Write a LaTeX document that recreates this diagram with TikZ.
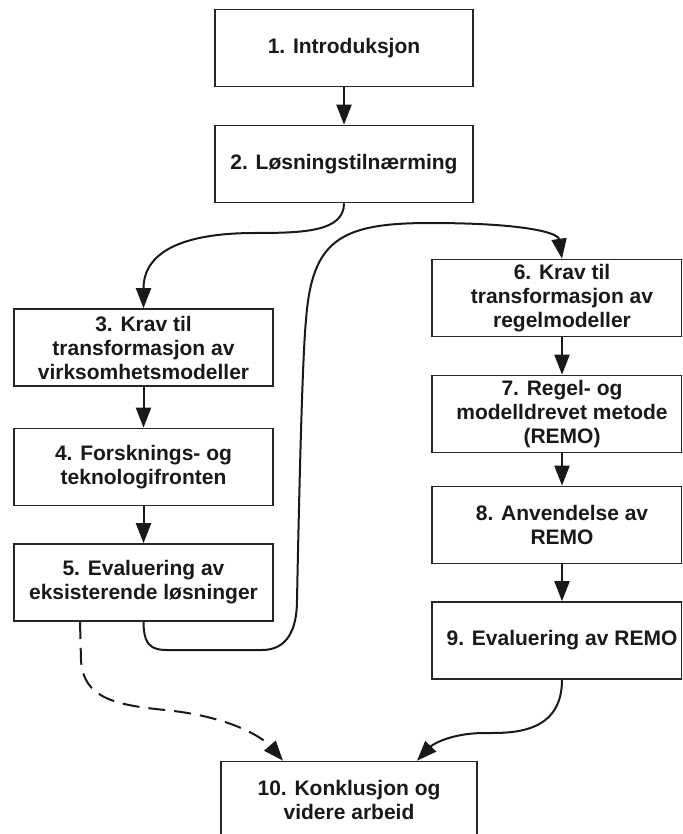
\documentclass[tikz,border=0pt]{standalone}
\usepackage{fontspec}
\setmainfont{Liberation Sans}
\usetikzlibrary{arrows.meta}
\begin{document}
\begin{tikzpicture}[x=1pt,y=-1pt,
  box/.style={draw=black!85, line width=1.6pt, fill=white, align=center,
    text=black!90, font=\bfseries\fontsize{21}{24}\selectfont,
    inner sep=0pt, minimum height=77pt},
  rightedge/.style={draw=black!85, line width=1.6pt},
  arr/.style={draw=black!90, line width=2pt,
    -{Triangle[length=20pt,width=15pt]}},
  dashedarr/.style={arr, dash pattern=on 17pt off 9pt},
]
\useasboundingbox (0,0) rectangle (682,834);
\clip (0,0) rectangle (682,834);

% centre column
\node[box, minimum width=258pt] (n1) at (344,48) {1. Introduksjon};
\node[box, minimum width=258pt] (n2) at (344,164) {2. Løsningstilnærming};

% left column
\node[box, minimum width=259pt] (n3) at (143.5,347.5) {3. Krav til\\transformasjon av\\virksomhetsmodeller};
\node[box, minimum width=259pt] (n4) at (143.5,467) {4. Forsknings- og\\teknologifronten};
\node[box, minimum width=259pt] (n5) at (143.5,582.5) {5. Evaluering av\\eksisterende løsninger};

% right column (frames run to the page edge)
\node[box, minimum width=260pt] (n6) at (562,298) {6. Krav til\\transformasjon av\\regelmodeller};
\node[box, minimum width=260pt] (n7) at (562,414) {7. Regel- og\\modelldrevet metode\\(REMO)};
\node[box, minimum width=260pt] (n8) at (562,525) {8. Anvendelse av\\REMO};
\node[box, minimum width=260pt] (n9) at (562,640.5) {9. Evaluering av REMO};
\foreach \n in {n6,n7,n8,n9}
  \draw[rightedge] ([xshift=-11.5pt]\n.north east) -- ([xshift=-11.5pt]\n.south east);

% conclusion
\node[box, minimum width=256pt] (n10) at (349,800) {10. Konklusjon og\\videre arbeid};

% straight links
\draw[arr] (n1) -- (n2);
\draw[arr] (n3) -- (n4);
\draw[arr] (n4) -- (n5);
\draw[arr] (n6) -- (n7);
\draw[arr] (n7) -- (n8);
\draw[arr] (n8) -- (n9);

% 2 -> 3
\draw[arr] (n2.south) .. controls +(0,28) and +(50,0) .. (255,233)
  .. controls +(-75,0) and +(0,-55) .. (n3.north);

% 5 -> 6, looping under box 5 and up to the right column
\draw[arr] (n5.south) .. controls +(0,30) and +(-18,0) .. (175,650) -- (262,650)
  .. controls +(25,0) and +(0,30) .. (297,600)
  .. controls (300,450) and (303,350) .. (306,320)
  .. controls (312,240) and (340,223) .. (430,223)
  .. controls (520,223) and (558,232) .. (n6.north);

% 5 -> 10 (dashed)
\draw[dashedarr] ([xshift=-63.5pt]n5.south) -- (81,660)
  .. controls (83,698) and (115,705) .. (165,710)
  .. controls (235,717) and (265,740) .. ([xshift=-66pt]n10.north);

% 9 -> 10
\draw[arr] (n9.south) .. controls +(0,55) and +(25,0) .. (485,733)
  .. controls (450,733) and (432,745) .. ([xshift=68pt]n10.north);
\end{tikzpicture}
\end{document}
